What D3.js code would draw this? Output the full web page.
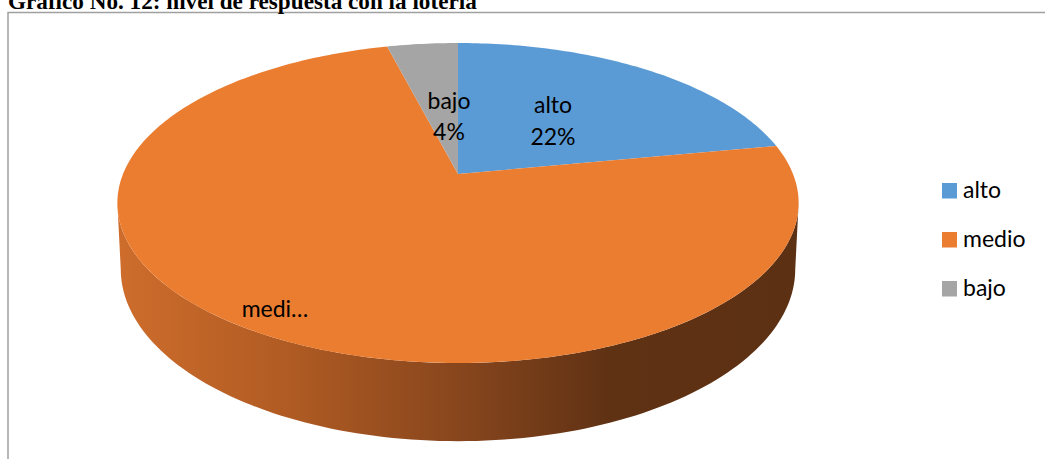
<!DOCTYPE html>
<html>
<head>
<meta charset="utf-8">
<script src="https://cdn.jsdelivr.net/npm/d3@7"></script>
<style>
  body { margin: 0; background: #fff; }
  svg { display: block; }
</style>
</head>
<body>
<script>
const w = 1045;
const h = 459;

// data
const categories = ["alto", "medio", "bajo"];
const values = [22, 74, 4];
const sliceLabels = [["alto", "22%"], ["medi\u2026"], ["bajo", "4%"]];
const colors = ["#5B9BD5", "#EB7D31", "#A5A5A5"];
const titleText = "Gráfico No. 12: nivel de respuesta con la lotería";

// 3d pie projection (perspective tilt)
const cx = 458, A = 123.2, B = 174, G = -0.18125, D = 335, H = 64;

function project(theta, bottom) {
  const u = Math.sin(theta), v = -Math.cos(theta);
  const den = 1 + G * v;
  const s = bottom ? 0.99 : 1;
  return [cx + s * D * u / den, (A * v + B) / den + (bottom ? H / den : 0)];
}

const svg = d3.select("body").append("svg")
  .attr("width", w)
  .attr("height", h);

// frame
svg.append("rect")
  .attr("x", 8)
  .attr("y", 12.5)
  .attr("width", w + 10)
  .attr("height", h + 10)
  .attr("fill", "none")
  .attr("stroke", "#a0a0a0")
  .attr("stroke-width", 1.5);

// title (clipped at top as in the scan)
const title = svg.append("text")
  .attr("x", 8)
  .attr("y", 8.5)
  .attr("font-family", "Liberation Serif, Times New Roman, serif")
  .attr("font-weight", "bold")
  .attr("font-size", 20)
  .attr("fill", "#000")
  .text(titleText);
const tl = title.node().getComputedTextLength();
title.attr("font-size", 20 * 469 / tl);

const defs = svg.append("defs");
const grad = defs.append("linearGradient")
  .attr("id", "side")
  .attr("gradientUnits", "userSpaceOnUse")
  .attr("x1", 117).attr("x2", 798)
  .attr("y1", 0).attr("y2", 0);
[[0, "#CE6D2C"], [0.25, "#B05B23"], [0.5, "#88461D"], [0.72, "#603214"], [1, "#5C3013"]]
  .forEach(s => grad.append("stop").attr("offset", s[0]).attr("stop-color", s[1]));

const line = d3.line();

// side wall (front part, all "medio")
const sa = Math.PI - Math.acos(-G) + 0.0, sb = Math.PI + Math.acos(-G);
const topArc = d3.range(sa, sb + 1e-6, (sb - sa) / 120).map(t => project(t, false));
const botArc = d3.range(sb, sa - 1e-6, -(sb - sa) / 120).map(t => project(t, true));
svg.append("path")
  .attr("d", line(topArc.concat(botArc)) + "Z")
  .attr("fill", "url(#side)");

// top slices
const pie = d3.pie().sort(null).value(d => d);
const arcs = pie(values);

svg.selectAll(".slice")
  .data(arcs)
  .enter()
  .append("path")
  .attr("class", "slice")
  .attr("fill", (d, i) => colors[i])
  .attr("d", d => {
    const n = Math.max(8, Math.ceil((d.endAngle - d.startAngle) * 60));
    const pts = [[cx, B]];
    for (let k = 0; k <= n; k++) {
      pts.push(project(d.startAngle + (d.endAngle - d.startAngle) * k / n, false));
    }
    return line(pts) + "Z";
  });

// data labels
const labelPos = [[553, 112.5], [275, 317], [449, 108.5]];
const lineGap = [32.5, 0, 31];
const lab = svg.selectAll(".lab")
  .data(arcs)
  .enter()
  .append("text")
  .attr("class", "lab")
  .attr("text-anchor", "middle")
  .attr("font-family", "Lato, Open Sans, sans-serif")
  .attr("font-size", 23)
  .attr("fill", "#000")
  .attr("x", (d, i) => labelPos[i][0])
  .attr("y", (d, i) => labelPos[i][1]);
lab.each(function(d, i) {
  d3.select(this).selectAll("tspan")
    .data(sliceLabels[i])
    .enter()
    .append("tspan")
    .attr("x", labelPos[i][0])
    .attr("dy", (t, j) => j === 0 ? 0 : lineGap[i])
    .text(t => t);
});

// legend
const legend = svg.selectAll(".legend")
  .data(categories)
  .enter()
  .append("g")
  .attr("class", "legend")
  .attr("transform", (d, i) => "translate(942," + (183 + i * 49) + ")");

legend.append("rect")
  .attr("width", 15)
  .attr("height", 15.5)
  .attr("fill", (d, i) => colors[i]);

legend.append("text")
  .attr("x", 21)
  .attr("y", 15)
  .attr("font-family", "Lato, Open Sans, sans-serif")
  .attr("font-size", 23)
  .attr("fill", "#000")
  .text(d => d);
</script>
</body>
</html>
